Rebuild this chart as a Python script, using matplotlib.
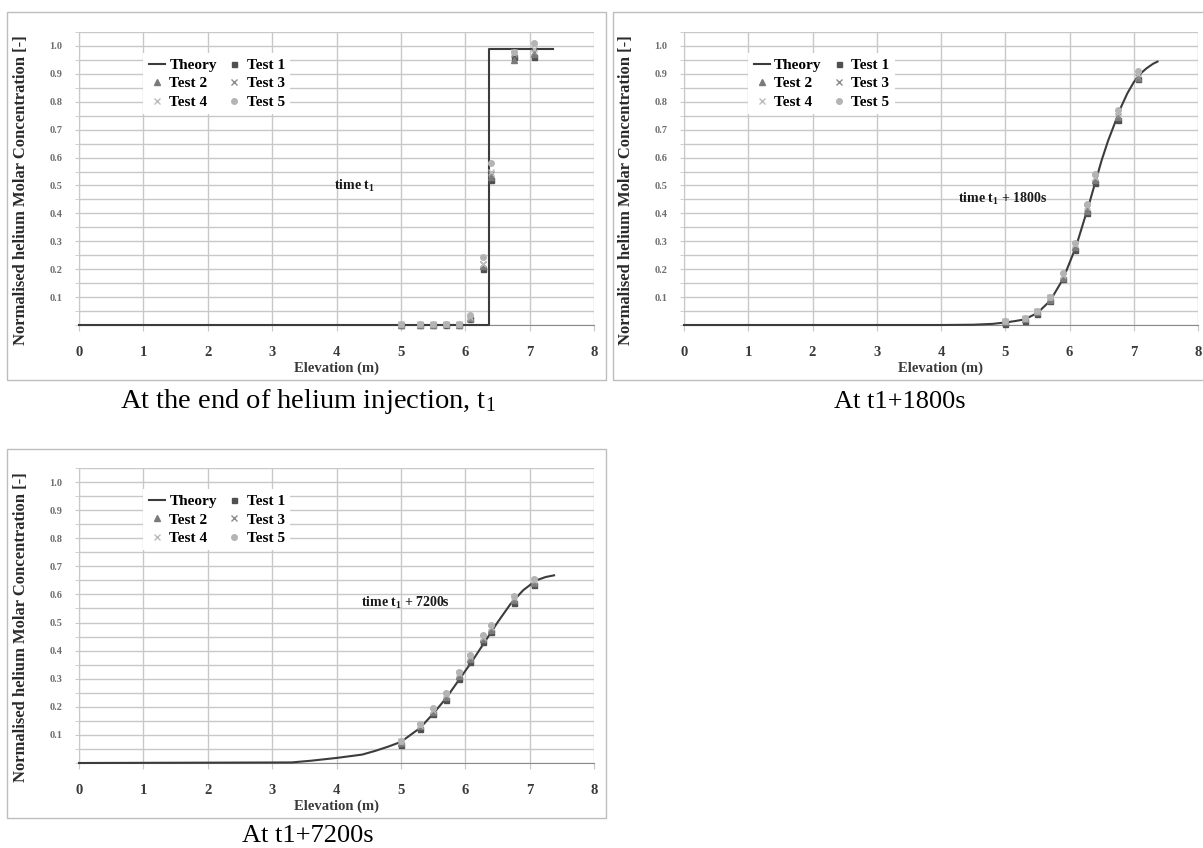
import matplotlib
matplotlib.use("Agg")
import matplotlib.pyplot as plt
from matplotlib.patches import Rectangle
from matplotlib.ticker import MultipleLocator


# Fonts and colours
plt.rcParams["font.family"] = ["Liberation Serif", "DejaVu Serif"]
plt.rcParams["mathtext.fontset"] = "custom"
plt.rcParams["mathtext.rm"] = "Liberation Serif"
plt.rcParams["mathtext.bf"] = "Liberation Serif:bold"
plt.rcParams["mathtext.default"] = "regular"

GRID_COLOR = "#c8c8c8"
BOX_COLOR = "#bdbdbd"
TICK_COLOR = "#6e6e6e"
LABEL_COLOR = "#3a3a3a"
THEORY_COLOR = "#3c3c3c"

# Sensor elevations (m), shared by all three test times
elevation = [5.0, 5.3, 5.5, 5.7, 5.9, 6.08, 6.27, 6.4, 6.75, 7.07]

# End of helium injection, t1
theory_x_t1 = [0.0, 6.37, 6.37, 7.37]
theory_y_t1 = [0.0, 0.0, 0.99, 0.99]
test1_t1 = [0.0, 0.0, 0.0, 0.0, 0.0, 0.02, 0.20, 0.52, 0.96, 0.96]
test2_t1 = [0.0, 0.0, 0.0, 0.005, 0.0, 0.025, 0.21, 0.53, 0.95, 0.97]
test3_t1 = [0.0, 0.0, 0.0, 0.0, 0.0, 0.02, 0.22, 0.54, 0.97, 0.98]
test4_t1 = [0.005, 0.005, 0.005, 0.005, 0.005, 0.03, 0.22, 0.55, 0.98, 0.99]
test5_t1 = [0.005, 0.005, 0.005, 0.005, 0.005, 0.035, 0.245, 0.58, 0.98, 1.01]

# t1 + 1800 s
theory_x_1800 = [0.0, 4.0, 4.5, 4.8, 5.0, 5.15, 5.3, 5.5, 5.7, 5.9, 6.1,
                 6.3, 6.5, 6.6, 6.7, 6.8, 6.9, 7.0, 7.1, 7.2, 7.3, 7.37]
theory_y_1800 = [0.0, 0.0, 0.001, 0.004, 0.009, 0.014, 0.02, 0.043, 0.087,
                 0.165, 0.28, 0.43, 0.59, 0.66, 0.72, 0.78, 0.83, 0.87,
                 0.90, 0.92, 0.936, 0.944]
test1_1800 = [0.005, 0.015, 0.04, 0.085, 0.165, 0.27, 0.40, 0.51, 0.735, 0.88]
test2_1800 = [0.01, 0.02, 0.045, 0.09, 0.17, 0.28, 0.41, 0.52, 0.745, 0.885]
test3_1800 = [0.01, 0.02, 0.045, 0.095, 0.175, 0.285, 0.42, 0.525, 0.75, 0.89]
test4_1800 = [0.015, 0.025, 0.05, 0.10, 0.18, 0.29, 0.425, 0.53, 0.76, 0.90]
test5_1800 = [0.015, 0.025, 0.05, 0.10, 0.185, 0.295, 0.435, 0.54, 0.77, 0.91]

# t1 + 7200 s
theory_x_7200 = [0.0, 3.3, 3.6, 4.0, 4.4, 4.6, 4.8, 5.0, 5.3, 5.5, 5.7,
                 5.9, 6.1, 6.3, 6.5, 6.7, 6.9, 7.1, 7.25, 7.38]
theory_y_7200 = [0.0, 0.002, 0.008, 0.018, 0.03, 0.043, 0.058, 0.075, 0.125,
                 0.175, 0.23, 0.295, 0.36, 0.43, 0.50, 0.565, 0.615, 0.65,
                 0.662, 0.668]
test1_7200 = [0.065, 0.12, 0.175, 0.225, 0.30, 0.36, 0.43, 0.465, 0.57, 0.635]
test2_7200 = [0.07, 0.13, 0.18, 0.235, 0.31, 0.37, 0.44, 0.475, 0.58, 0.64]
test3_7200 = [0.075, 0.13, 0.185, 0.24, 0.315, 0.375, 0.445, 0.48, 0.585, 0.645]
test4_7200 = [0.08, 0.135, 0.19, 0.245, 0.32, 0.38, 0.45, 0.485, 0.59, 0.65]
test5_7200 = [0.08, 0.14, 0.195, 0.25, 0.325, 0.385, 0.455, 0.49, 0.595, 0.655]

x_ticks = [0, 1, 2, 3, 4, 5, 6, 7, 8]
y_ticks = [0.1, 0.2, 0.3, 0.4, 0.5, 0.6, 0.7, 0.8, 0.9, 1.0]

# marker style for each test
TEST_STYLES = [
    ("Test 1", "s", "#505050", 3.6),
    ("Test 2", "^", "#7a7a7a", 4.0),
    ("Test 3", "x", "#8c8c8c", 4.0),
    ("Test 4", "x", "#bcbcbc", 4.0),
    ("Test 5", "o", "#b4b4b4", 4.0),
]

W, H = 1203, 848


def fig_rect(x0, y0, x1, y1):
    # pixel box (top-left origin) -> figure fraction [left, bottom, width, height]
    return [x0 / W, 1 - y1 / H, (x1 - x0) / W, (y1 - y0) / H]


def draw_panel(fig, box, plot, theory, tests, note, note_xy):
    bx = fig_rect(*box)
    fig.patches.append(Rectangle((bx[0], bx[1]), bx[2], bx[3],
                                 transform=fig.transFigure, fill=False,
                                 edgecolor=BOX_COLOR, linewidth=1.0))

    ax = fig.add_axes(fig_rect(*plot))
    ax.set_xlim(0, 8)
    ax.set_ylim(0, 1.05)

    ax.set_xticks(x_ticks)
    ax.set_yticks(y_ticks)
    ax.set_yticklabels(["%.1f" % v for v in y_ticks])
    ax.yaxis.set_minor_locator(MultipleLocator(0.05))
    ax.grid(True, which="both", axis="y", color=GRID_COLOR, linewidth=1.0)
    ax.grid(True, which="major", axis="x", color=GRID_COLOR, linewidth=1.0)
    ax.set_axisbelow(True)

    for side in ["top", "right"]:
        ax.spines[side].set_visible(False)
    ax.spines["left"].set_color(GRID_COLOR)
    ax.spines["bottom"].set_color("#8a8a8a")

    ax.tick_params(axis="x", length=4, color=GRID_COLOR, pad=11,
                   labelsize=10.5, labelcolor=LABEL_COLOR)
    ax.tick_params(axis="y", which="both", length=3, color=GRID_COLOR,
                   pad=9, labelsize=7.5, labelcolor=TICK_COLOR)
    for lab in ax.get_xticklabels() + ax.get_yticklabels():
        lab.set_fontweight("bold")

    ax.plot(theory[0], theory[1], color=THEORY_COLOR, linewidth=1.5,
            label="Theory", clip_on=False, zorder=3)
    for (name, marker, color, size), values in zip(TEST_STYLES, tests):
        ax.plot(elevation, values, linestyle="none", marker=marker,
                markersize=size, color=color, markeredgewidth=1.0,
                label=name, clip_on=False, zorder=4)

    handles, labels = ax.get_legend_handles_labels()
    order = [0, 2, 4, 1, 3, 5]
    leg = ax.legend([handles[i] for i in order], [labels[i] for i in order],
                    ncol=2, loc="upper left", bbox_to_anchor=(0.11, 0.955),
                    frameon=True, fancybox=False, edgecolor="none",
                    facecolor="white", framealpha=1.0,
                    prop={"weight": "bold", "size": 11},
                    handlelength=1.1, handletextpad=0.25, columnspacing=0.6,
                    labelspacing=0.32, borderpad=0.35)
    leg.set_zorder(5)

    ax.text(note_xy[0], note_xy[1], note, fontsize=10, fontweight="bold",
            ha="center", va="center", color="#1a1a1a", zorder=6)

    ax.set_xlabel("Elevation (m)", fontsize=10.5, fontweight="bold",
                  color=LABEL_COLOR, labelpad=2)
    ax.set_ylabel("Normalised helium Molar Concentration [-]", fontsize=12,
                  fontweight="bold", color="#2a2a2a")
    ax.yaxis.set_label_coords(-50 / (plot[2] - plot[0]), 0.46)
    return ax


fig = plt.figure(figsize=(W / 100, H / 100), dpi=100)
fig.patch.set_facecolor("white")

draw_panel(fig, (7, 12, 606, 380), (79, 32, 594, 325),
           (theory_x_t1, theory_y_t1),
           [test1_t1, test2_t1, test3_t1, test4_t1, test5_t1],
           "time t$_1$", (4.28, 0.50))

draw_panel(fig, (613, 12, 1210, 380), (684, 32, 1198, 325),
           (theory_x_1800, theory_y_1800),
           [test1_1800, test2_1800, test3_1800, test4_1800, test5_1800],
           "time t$_1$ + 1800s", (4.96, 0.45))

draw_panel(fig, (7, 449, 606, 818), (79, 468, 594, 763),
           (theory_x_7200, theory_y_7200),
           [test1_7200, test2_7200, test3_7200, test4_7200, test5_7200],
           "time t$_1$ + 7200s", (5.07, 0.57))

# captions under each panel
fig.text(308 / W, 1 - 402 / H, "At the end of helium injection, t$_1$",
         fontsize=20.5, ha="center", va="center")
fig.text(900 / W, 1 - 402 / H, "At t1+1800s",
         fontsize=19, ha="center", va="center")
fig.text(308 / W, 1 - 836 / H, "At t1+7200s",
         fontsize=19, ha="center", va="center")

fig.savefig("out.png", dpi=100, facecolor="white")
